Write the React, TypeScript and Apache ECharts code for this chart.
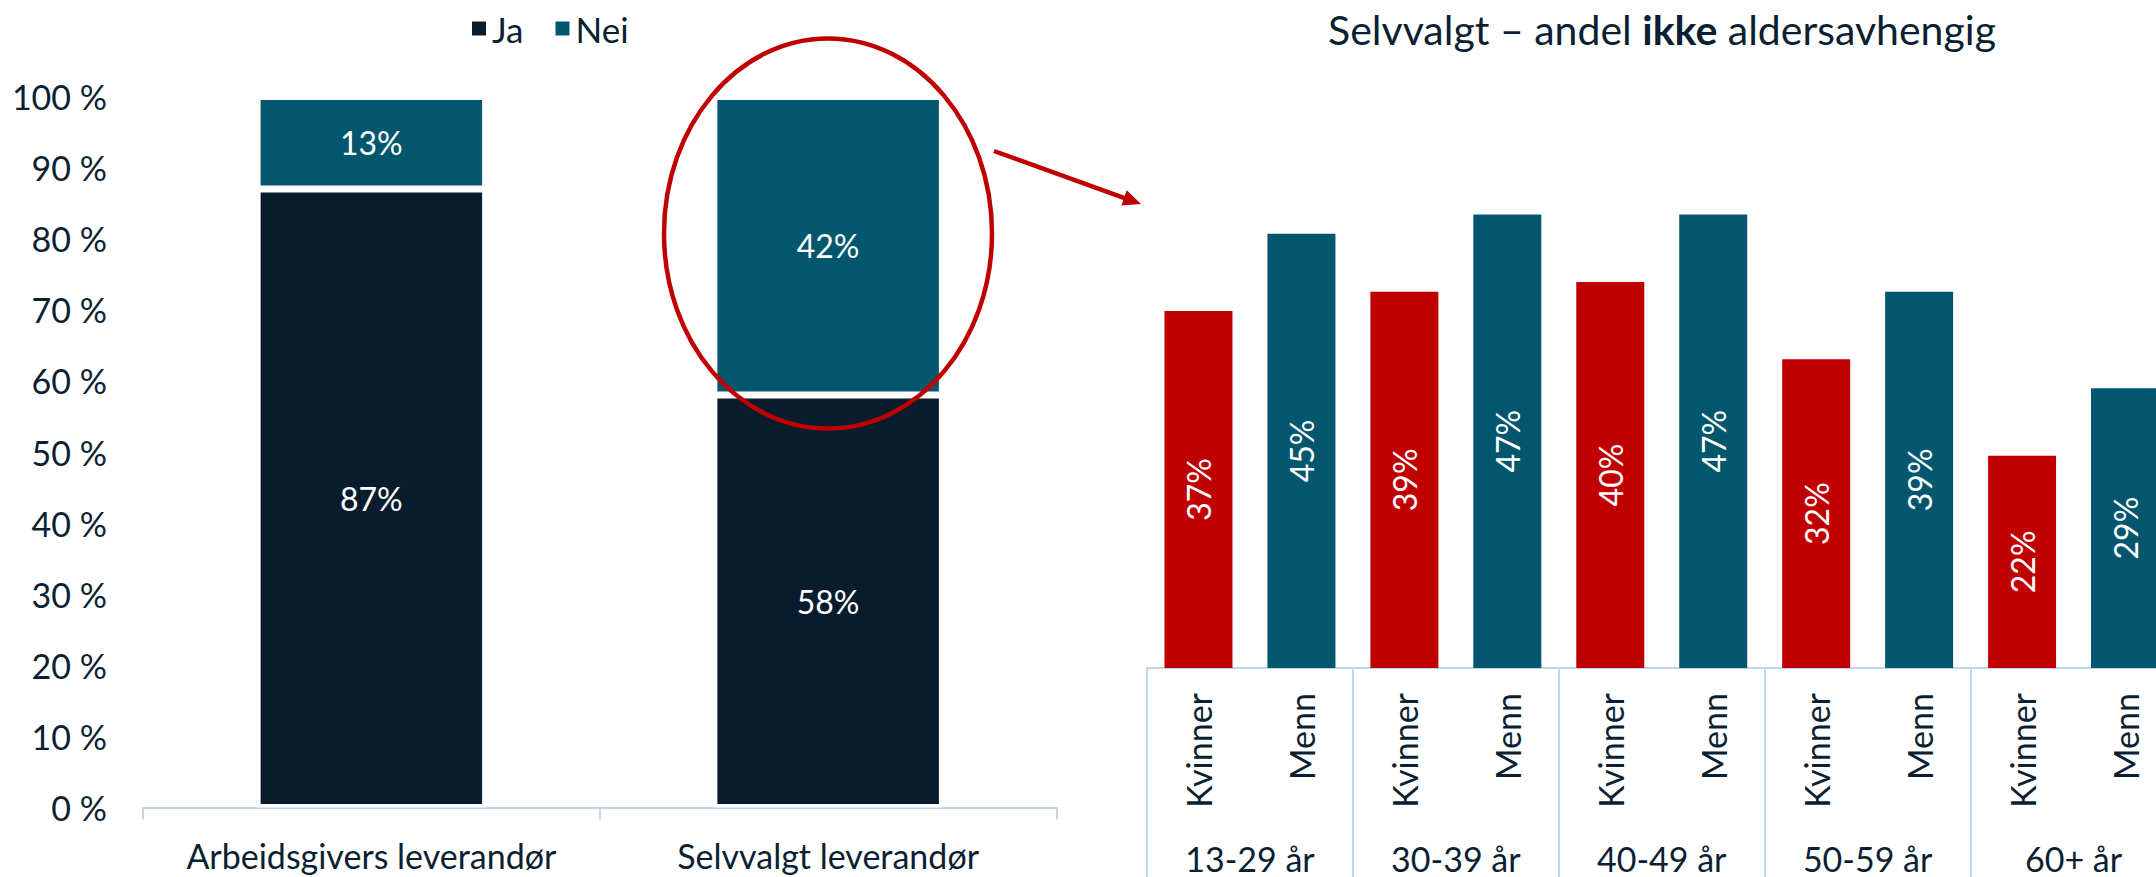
import React, { useEffect, useRef } from "react";
import * as echarts from "echarts";

const leftCategories = ["Arbeidsgivers leverandør", "Selvvalgt leverandør"];
const jaValues = [87, 58];
const neiValues = [13, 42];

const ageGroups = ["13-29 år", "30-39 år", "40-49 år", "50-59 år", "60+ år"];
const genders = ["Kvinner", "Menn"];
const kvinnerValues = [37, 39, 40, 32, 22];
const mennValues = [45, 47, 47, 39, 29];

const FONT = "Lato, 'Liberation Sans', sans-serif";
const TEXT = "#0B1F33";
const NAVY = "#081C2E";
const TEAL = "#02566E";
const RED = "#C00000";
const AXIS = "#BDD7EE";

export default function App() {
  const ref = useRef<HTMLDivElement>(null);
  useEffect(() => {
    if (!ref.current) return;
    const chart = echarts.init(ref.current, null, { renderer: "svg" });

    const subCats = ageGroups.flatMap(() => genders);
    const rightData = ageGroups.flatMap((_, i) => [
      { value: kvinnerValues[i], itemStyle: { color: RED } },
      { value: mennValues[i], itemStyle: { color: TEAL } },
    ]);

    // arrow geometry (annotation)
    const ax1 = 994, ay1 = 151, ax2 = 1141, ay2 = 204;
    const dx = ax2 - ax1, dy = ay2 - ay1;
    const len = Math.sqrt(dx * dx + dy * dy);
    const ux = dx / len, uy = dy / len;
    const hl = 18, hw = 8;
    const bx = ax2 - ux * hl, by = ay2 - uy * hl;

    chart.setOption({
      animation: false,
      textStyle: { fontFamily: FONT },
      legend: {
        data: ["Ja", "Nei"],
        left: 470,
        top: 11,
        padding: 0,
        itemWidth: 16,
        itemHeight: 16,
        itemGap: 30,
        icon: "rect",
        textStyle: { fontSize: 35, color: TEXT, fontFamily: FONT },
      },
      grid: [
        { left: 143, top: 96.5, width: 913.5, height: 711, outerBoundsMode: "none", containLabel: false },
        { left: 1147, top: 185.5, width: 1029.5, height: 482.5, outerBoundsMode: "none", containLabel: false },
      ],
      xAxis: [
        {
          gridIndex: 0,
          type: "category",
          data: leftCategories,
          axisLine: { show: true, lineStyle: { color: AXIS, width: 2 } },
          axisTick: { show: true, length: 12, lineStyle: { color: AXIS, width: 2 } },
          axisLabel: { fontSize: 34, color: TEXT, margin: 31, interval: 0, fontFamily: FONT },
        },
        {
          gridIndex: 1,
          type: "category",
          data: subCats,
          position: "bottom",
          axisLine: { show: true, lineStyle: { color: AXIS, width: 2 } },
          axisTick: { show: false },
          axisLabel: { fontSize: 34, color: TEXT, rotate: 90, margin: 25, interval: 0, fontFamily: FONT },
        },
        {
          gridIndex: 1,
          type: "category",
          data: ageGroups,
          position: "bottom",
          axisLine: { show: false },
          axisTick: { show: true, length: 215, lineStyle: { color: AXIS, width: 2 } },
          axisLabel: { fontSize: 34, color: TEXT, margin: 173, interval: 0, fontFamily: FONT },
        },
      ],
      yAxis: [
        {
          gridIndex: 0,
          type: "value",
          min: 0,
          max: 100,
          interval: 10,
          axisLine: { show: false },
          axisTick: { show: false },
          splitLine: { show: false },
          axisLabel: { formatter: "{value} %", fontSize: 34, color: TEXT, margin: 36, fontFamily: FONT },
        },
        {
          gridIndex: 1,
          type: "value",
          min: 0,
          max: 50,
          show: false,
          splitLine: { show: false },
        },
      ],
      series: [
        {
          name: "Ja",
          type: "bar",
          stack: "total",
          xAxisIndex: 0,
          yAxisIndex: 0,
          data: jaValues,
          barWidth: 228.5,
          itemStyle: { color: NAVY, borderColor: "#ffffff", borderWidth: 3.5 },
          label: { show: true, position: "inside", color: "#ffffff", fontSize: 32, formatter: "{c}%", fontFamily: FONT },
        },
        {
          name: "Nei",
          type: "bar",
          stack: "total",
          xAxisIndex: 0,
          yAxisIndex: 0,
          data: neiValues,
          barWidth: 228.5,
          itemStyle: { color: TEAL, borderColor: "#ffffff", borderWidth: 3.5 },
          label: { show: true, position: "inside", color: "#ffffff", fontSize: 32, formatter: "{c}%", fontFamily: FONT },
        },
        {
          name: "Andel",
          type: "bar",
          xAxisIndex: 1,
          yAxisIndex: 1,
          data: rightData,
          barWidth: 68,
          label: { show: true, position: "inside", rotate: 90, color: "#ffffff", fontSize: 32, formatter: "{c}%", fontFamily: FONT },
        },
      ],
      graphic: [
        {
          type: "text",
          x: 1662,
          y: 29,
          style: {
            text: "{n|Selvvalgt – andel }{b|ikke}{n| aldersavhengig}",
            align: "center",
            verticalAlign: "middle",
            rich: {
              n: { fontSize: 41, fill: TEXT, fontFamily: FONT },
              b: { fontSize: 41, fill: TEXT, fontWeight: "bold", fontFamily: FONT },
            },
          },
        },
        {
          type: "ellipse",
          shape: { cx: 828, cy: 233.5, rx: 164, ry: 195 },
          style: { fill: "none", stroke: RED, lineWidth: 4.5 },
          z: 100,
        },
        {
          type: "line",
          shape: { x1: ax1, y1: ay1, x2: bx + ux * 2, y2: by + uy * 2 },
          style: { stroke: RED, lineWidth: 4.5 },
          z: 100,
        },
        {
          type: "polygon",
          shape: {
            points: [
              [ax2, ay2],
              [bx - uy * hw, by + ux * hw],
              [bx + uy * hw, by - ux * hw],
            ],
          },
          style: { fill: RED },
          z: 100,
        },
      ],
    });
    return () => chart.dispose();
  }, []);
  return (
    <div
      ref={ref}
      style={{ position: "absolute", left: 0, top: 0, width: 2156, height: 877, background: "#ffffff" }}
    />
  );
}
